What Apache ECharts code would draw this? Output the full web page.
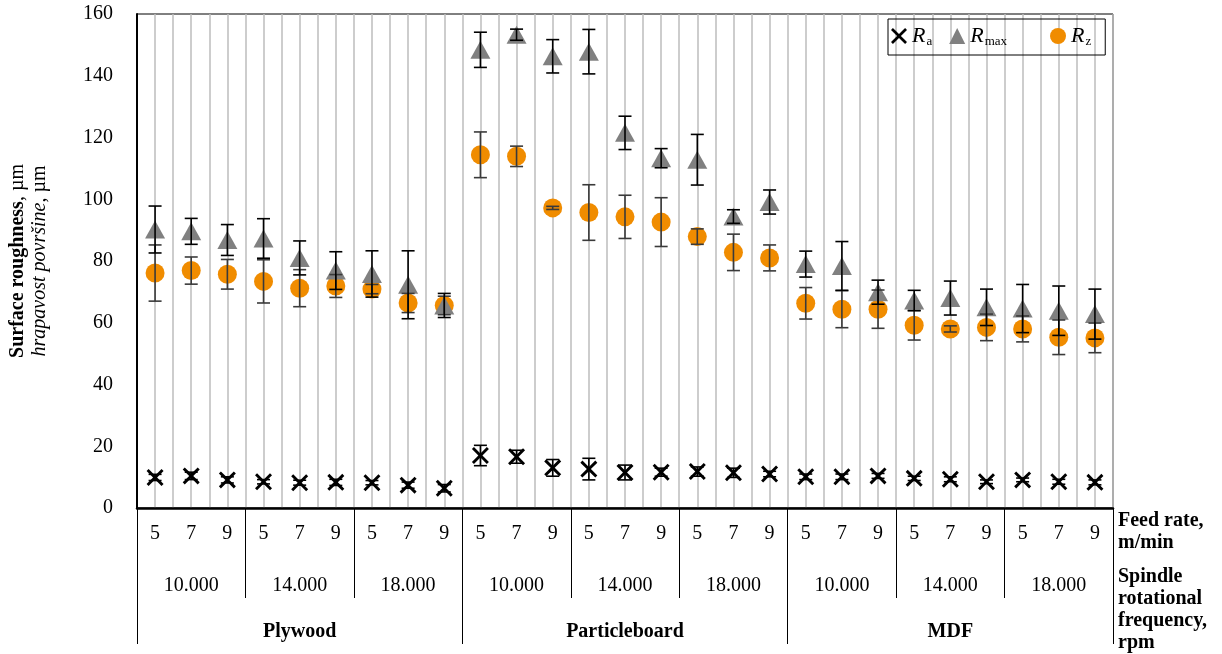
<!DOCTYPE html>
<html><head><meta charset="utf-8">
<script src="https://cdn.jsdelivr.net/npm/echarts@6/dist/echarts.min.js"></script>
<style>html,body{margin:0;padding:0;background:#fff}#c{width:1222px;height:654px}</style>
</head><body><div id="c"></div>
<script>
// ---- data ----
const materials = ['Plywood', 'Particleboard', 'MDF'];
const spindleSpeeds = ['10.000', '14.000', '18.000'];
const feedRates = ['5', '7', '9'];

const ra = [9.9, 10.4, 9.1, 8.5, 8.2, 8.3, 8.2, 7.4, 6.4,
            17.0, 16.6, 13.0, 12.6, 11.5, 11.6, 11.8, 11.4, 11.0,
            10.1, 10.1, 10.4, 9.6, 9.3, 8.5, 9.1, 8.5, 8.3];
const raErr = [1.0, 1.2, 1.0, 0.7, 0.8, 1.0, 0.7, 1.0, 1.2,
               3.3, 2.1, 2.7, 3.5, 2.4, 1.3, 1.5, 1.5, 0.9,
               0.9, 0.9, 0.8, 0.7, 0.8, 0.6, 0.6, 0.8, 0.8];
const rmax = [90.2, 89.6, 86.8, 87.3, 81.0, 76.9, 75.8, 72.3, 65.6,
              148.4, 153.3, 146.3, 147.8, 121.5, 113.3, 112.8, 94.4, 99.1,
              79.0, 78.4, 69.9, 67.2, 68.0, 65.0, 64.6, 63.9, 62.8];
const rmaxErr = [7.6, 4.2, 5.0, 6.4, 5.5, 6.1, 7.5, 11.0, 3.9,
                 5.7, 1.8, 5.4, 7.2, 5.4, 3.1, 8.2, 2.2, 3.9,
                 4.2, 7.9, 3.9, 3.3, 5.5, 5.9, 7.8, 8.0, 8.1];
const rz = [76.1, 76.9, 75.7, 73.4, 71.2, 71.9, 70.9, 66.4, 65.6,
            114.4, 113.9, 97.2, 95.7, 94.3, 92.6, 87.9, 82.8, 81.0,
            66.3, 64.4, 64.4, 59.2, 58.0, 58.5, 58.0, 55.3, 55.1];
const rzErr = [9.1, 4.4, 4.8, 7.0, 6.0, 3.7, 1.5, 3.1, 3.0,
               7.4, 3.3, 0.5, 9.0, 7.0, 7.9, 2.5, 5.9, 4.2,
               5.1, 6.0, 6.2, 4.8, 1.0, 4.3, 4.2, 5.6, 4.8];
const yMin = 0, yMax = 160, yStep = 20;

// ---- derived category labels ----
const feedLabels = [];
const spindleLabels = [];
materials.forEach(() => spindleSpeeds.forEach(s => {
  spindleLabels.push(s);
  feedRates.forEach(f => feedLabels.push(f));
}));
const halfCats = [];
for (let i = 0; i < feedLabels.length * 2; i++) halfCats.push('');

const FONT = 'Liberation Serif';
const xPath = 'path://M0,1.2 L1.2,0 L5,3.8 L8.8,0 L10,1.2 L6.2,5 L10,8.8 L8.8,10 L5,6.2 L1.2,10 L0,8.8 L3.8,5 Z';

function errSeries(vals, errs, color, capHalf) {
  return {
    type: 'custom',
    xAxisIndex: 0, yAxisIndex: 0,
    z: 5,
    silent: true,
    data: vals.map((v, i) => [i, v, errs[i]]),
    encode: { x: 0, y: 1 },
    renderItem: function (params, api) {
      const i = api.value(0), v = api.value(1), e = api.value(2);
      const t = api.coord([i, v + e]);
      const b = api.coord([i, v - e]);
      const st = { stroke: color, lineWidth: 1.6 };
      return {
        type: 'group',
        children: [
          { type: 'line', shape: { x1: t[0], y1: t[1], x2: b[0], y2: b[1] }, style: st },
          { type: 'line', shape: { x1: t[0] - capHalf, y1: t[1], x2: t[0] + capHalf, y2: t[1] }, style: st },
          { type: 'line', shape: { x1: b[0] - capHalf, y1: b[1], x2: b[0] + capHalf, y2: b[1] }, style: st }
        ]
      };
    }
  };
}

const chart = echarts.init(document.getElementById('c'), null, { renderer: 'canvas' });
chart.setOption({
  animation: false,
  backgroundColor: '#fff',
  grid: { left: 137, right: 109, top: 14, bottom: 146, show: true, borderColor: '#000', borderWidth: 1, backgroundColor: 'transparent' },
  legend: {
    left: 888, top: 19,
    padding: [6, 14, 7, 3],
    borderColor: '#000', borderWidth: 1,
    itemWidth: 16, itemHeight: 16, itemGap: 17,
    data: ['Ra', 'Rmax', 'Rz'],
    formatter: function (n) {
      if (n === 'Ra') return '{r|R}{s|a}';
      if (n === 'Rmax') return '{r|R}{sm|max}';
      return '{r|R}{s|z}';
    },
    textStyle: {
      rich: {
        r: { fontFamily: FONT, fontStyle: 'italic', fontSize: 22, lineHeight: 24, color: '#000' },
        s: { fontFamily: FONT, fontSize: 13, lineHeight: 11, verticalAlign: 'bottom', color: '#000', padding: [0, 0, 0, 1] },
        sm: { fontFamily: FONT, fontSize: 13, lineHeight: 11, verticalAlign: 'bottom', color: '#000', padding: [0, 26, 0, 1] }
      }
    }
  },
  xAxis: [
    {
      type: 'category', data: feedLabels, position: 'bottom', gridIndex: 0,
      axisLine: { show: true, lineStyle: { color: '#000', width: 2.5 } },
      axisTick: { show: false },
      axisLabel: { interval: 0, margin: 16, fontFamily: FONT, fontSize: 20, color: '#000' },
      splitLine: { show: false }
    },
    {
      type: 'category', data: spindleLabels, position: 'bottom', gridIndex: 0,
      axisLine: { show: false },
      axisTick: { show: true, interval: 0, length: 90, lineStyle: { color: '#000', width: 1 } },
      axisLabel: { interval: 0, margin: 68, fontFamily: FONT, fontSize: 20, color: '#000' },
      splitLine: { show: false }
    },
    {
      type: 'category', data: materials, position: 'bottom', gridIndex: 0,
      axisLine: { show: false },
      axisTick: { show: true, interval: 0, length: 136, lineStyle: { color: '#000', width: 1 } },
      axisLabel: { interval: 0, margin: 114, fontFamily: FONT, fontSize: 20, fontWeight: 'bold', color: '#000' },
      splitLine: { show: false }
    },
    {
      type: 'category', data: halfCats, position: 'top', gridIndex: 0,
      axisLine: { show: false }, axisTick: { show: false }, axisLabel: { show: false },
      splitLine: { show: true, interval: 0, lineStyle: { color: '#bdbdbd', width: 1.5 } }
    }
  ],
  yAxis: {
    type: 'value', min: yMin, max: yMax, interval: yStep,
    axisLine: { show: true, lineStyle: { color: '#000', width: 2 } },
    axisTick: { show: false },
    splitLine: { show: false },
    axisLabel: { margin: 24, fontFamily: FONT, fontSize: 20, color: '#000' },
    name: '{b|Surface roughness}{n|, µm}\n{i|hrapavost površine}{n|, µm}',
    nameLocation: 'middle', nameRotate: 90, nameGap: 86,
    nameTextStyle: {
      rich: {
        b: { fontFamily: FONT, fontSize: 20, fontWeight: 'bold', color: '#000', lineHeight: 22 },
        i: { fontFamily: FONT, fontSize: 20, fontStyle: 'italic', color: '#000', lineHeight: 22 },
        n: { fontFamily: FONT, fontSize: 20, color: '#000', lineHeight: 22 }
      }
    }
  },
  graphic: [
    { type: 'text', left: 1118, top: 510, style: { text: 'Feed rate,\nm/min', font: 'bold 20px "Liberation Serif"', lineHeight: 22, fill: '#000' } },
    { type: 'text', left: 1118, top: 566, style: { text: 'Spindle\nrotational\nfrequency,\nrpm', font: 'bold 20px "Liberation Serif"', lineHeight: 22, fill: '#000' } }
  ],
  series: [
    { name: 'Ra', type: 'scatter', xAxisIndex: 0, symbol: xPath, symbolSize: 17, itemStyle: { color: '#000', opacity: 1 }, z: 3, data: ra },
    { name: 'Rz', type: 'scatter', xAxisIndex: 0, symbol: 'circle', symbolSize: 19, itemStyle: { color: '#F08C00', opacity: 1 }, z: 2, data: rz },
    { name: 'Rmax', type: 'scatter', xAxisIndex: 0, symbol: 'triangle', symbolSize: [20, 18], itemStyle: { color: '#808080', opacity: 1 }, z: 3, data: rmax },
    errSeries(rz, rzErr, '#3a3a3a', 6.5),
    errSeries(rmax, rmaxErr, '#000', 6.5),
    errSeries(ra, raErr, '#000', 6.5)
  ]
});
</script>
</body></html>
